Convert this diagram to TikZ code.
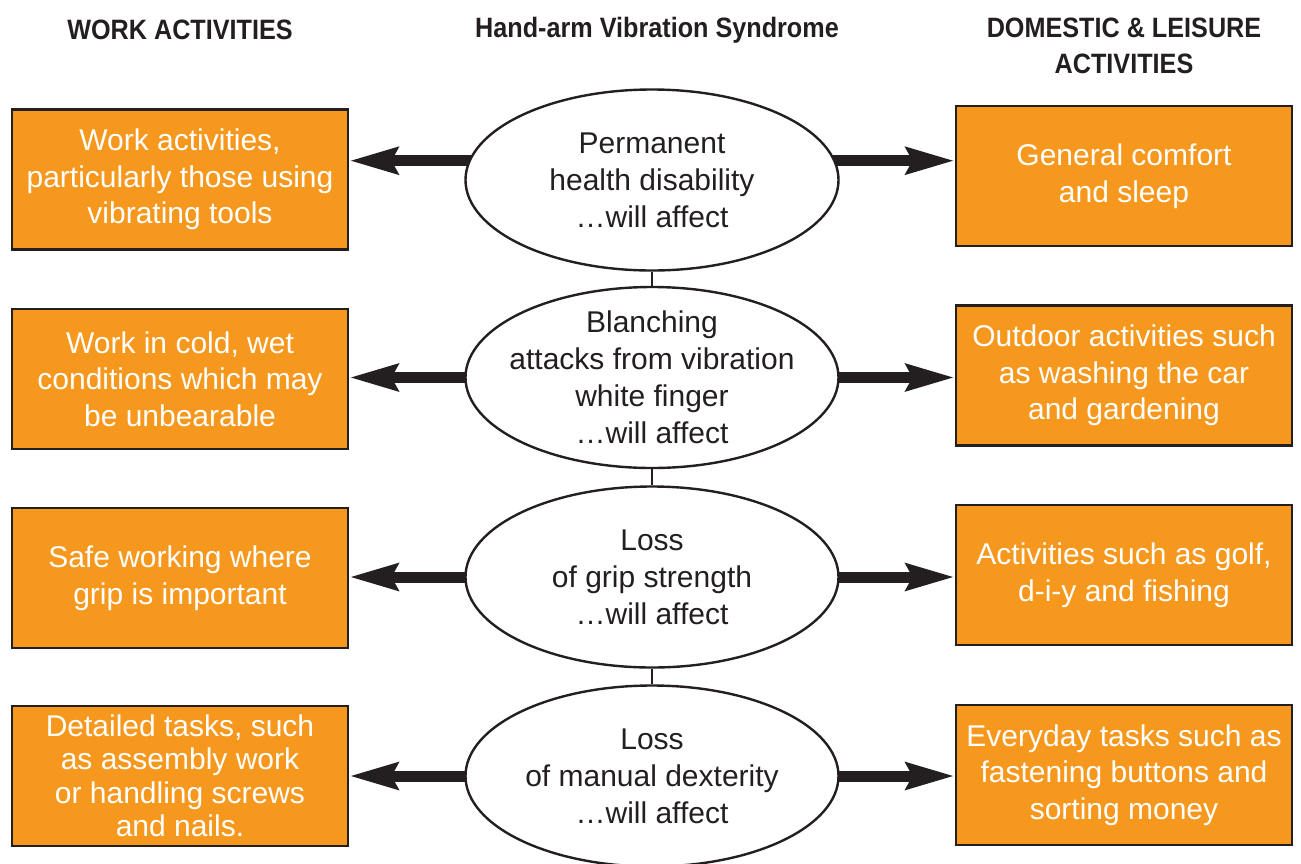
\documentclass[tikz,border=0pt]{standalone}
\usepackage{fontspec}
\setmainfont{Liberation Sans}
\newfontfamily\hdfont[FakeStretch=0.9]{Liberation Sans}
\usetikzlibrary{arrows.meta,shapes.geometric}
\definecolor{boxorange}{RGB}{247,152,30}
\definecolor{ink}{RGB}{35,31,32}
\pgfdeclarelayer{back}
\pgfsetlayers{back,main}
\begin{document}
\begin{tikzpicture}[x=1pt,y=-1pt,
  actbox/.style={draw=ink, line width=2.6pt, fill=boxorange, text=white, align=center,
    font=\fontsize{30}{36.5}\selectfont, minimum width=336pt, minimum height=140pt, inner sep=0pt},
  effect/.style={draw=ink, line width=2.4pt, ellipse, fill=white, minimum width=373pt,
    minimum height=181pt, inner sep=0pt},
  efftext/.style={align=center, text=ink, font=\fontsize{30}{37}\selectfont, inner sep=0pt},
  header/.style={font=\hdfont\bfseries\fontsize{28}{36}\selectfont, text=ink, align=center},
  arr/.style={draw=ink, line width=11pt, shorten <=-6pt, -{Stealth[length=48pt,width=26pt,inset=6pt]}},
  link/.style={draw=ink, line width=2pt}]
\useasboundingbox (0,0) rectangle (1301,863);

% headers
\node[header] (hw) at (180,30) {WORK ACTIVITIES};
\node[header] (hh) at (657,30) {Hand-arm Vibration Syndrome};
\node[header] (hd) at (1124,46) {DOMESTIC \& LEISURE\\ACTIVITIES};

% ellipses
\node[effect, label={[efftext]center:{Permanent\\health disability\\…will affect}}] (e1) at (652,180) {};
\node[effect, label={[efftext]center:{Blanching\\attacks from vibration\\white finger\\…will affect}}] (e2) at (652,377.5) {};
\node[effect, label={[efftext]center:{Loss\\of grip strength\\…will affect}}] (e3) at (652,577) {};
\node[effect, label={[efftext]center:{Loss\\of manual dexterity\\…will affect}}] (e4) at (652,776) {};

% work boxes
\node[actbox] (l1) at (180,179.5) {Work activities,\\particularly those using\\vibrating tools};
\node[actbox] (l2) at (180,379) {Work in cold, wet\\conditions which may\\be unbearable};
\node[actbox] (l3) at (180,578) {Safe working where\\grip is important};
\node[actbox, font=\fontsize{30}{33.5}\selectfont] (l4) at (180,776) {Detailed tasks, such\\as assembly work\\or handling screws\\and nails.};

% domestic boxes
\node[actbox] (r1) at (1124,176) {General comfort\\and sleep};
\node[actbox] (r2) at (1124,375.5) {Outdoor activities such\\as washing the car\\and gardening};
\node[actbox] (r3) at (1124,575) {Activities such as golf,\\d-i-y and fishing};
\node[actbox] (r4) at (1124,775) {Everyday tasks such as\\fastening buttons and\\sorting money};

\begin{pgfonlayer}{back}
\draw[link] (e1.south) -- (e2.north);
\draw[link] (e2.south) -- (e3.north);
\draw[link] (e3.south) -- (e4.north);

\draw[arr] (e1.174) -- (e1.174 -| l1.east);
\draw[arr] (e1.6) -- (e1.6 -| r1.west);
\draw[arr] (e2.west) -- (e2.west -| l2.east);
\draw[arr] (e2.east) -- (e2.east -| r2.west);
\draw[arr] (e3.west) -- (e3.west -| l3.east);
\draw[arr] (e3.east) -- (e3.east -| r3.west);
\draw[arr] (e4.west) -- (e4.west -| l4.east);
\draw[arr] (e4.east) -- (e4.east -| r4.west);
\end{pgfonlayer}
\end{tikzpicture}
\end{document}
